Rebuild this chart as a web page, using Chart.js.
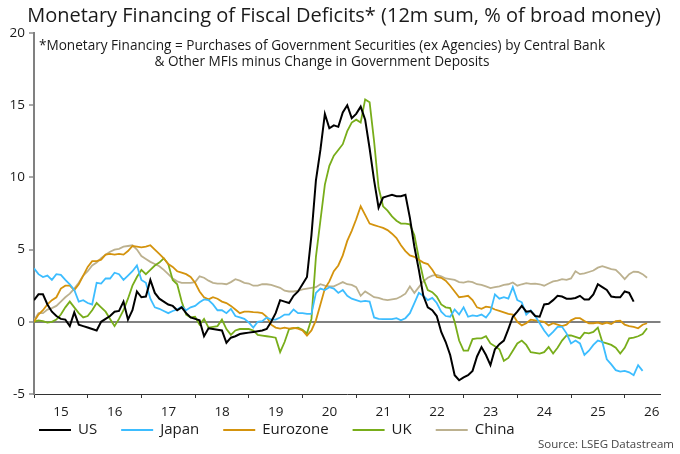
<!DOCTYPE html>
<html>
<head>
<meta charset="utf-8">
<script src="https://cdn.jsdelivr.net/npm/chart.js@4.4.1/dist/chart.umd.min.js"></script>
<style>
  html, body { margin: 0; padding: 0; background: #fff; }
  #wrap { width: 680px; height: 454px; position: relative; }
</style>
</head>
<body>
<div id="wrap"><canvas id="chart" width="680" height="454"></canvas></div>
<script>
// monthly series, first value = Jan 2015
var years = ['15','16','17','18','19','20','21','22','23','24','25','26'];

var us = [1.5,1.9,1.9,1.2,0.7,0.4,0.2,0.15,-0.3,0.65,
  -0.2,-0.3,-0.4,-0.5,-0.6,0.0,0.2,0.4,0.7,0.75,
  1.4,0.15,0.8,2.1,1.7,1.75,2.9,2.0,1.6,1.4,
  1.2,1.1,0.8,1.0,0.6,0.3,0.2,0.1,-1.0,-0.45,
  -0.5,-0.55,-0.6,-1.45,-1.1,-1.0,-0.85,-0.8,-0.75,-0.7,
  -0.65,-0.6,-0.5,0.0,0.6,1.5,1.4,1.3,1.8,2.1,
  2.6,3.1,6.0,9.8,11.9,14.4,13.4,13.6,13.5,14.5,
  15.0,14.1,14.4,14.9,14.0,12.0,9.8,7.9,8.6,8.7,
  8.8,8.7,8.7,8.8,7.2,5.2,3.6,1.8,1.0,0.8,
  0.4,-0.7,-1.4,-2.3,-3.7,-4.05,-3.85,-3.7,-3.4,-2.4,
  -1.75,-2.3,-3.0,-1.9,-1.55,-1.3,-0.5,0.35,0.7,1.1,
  0.7,0.75,0.4,0.35,1.2,1.25,1.5,1.8,1.75,1.6,
  1.6,1.65,1.8,1.55,1.55,1.9,2.6,2.4,2.2,1.75,
  1.7,1.7,2.1,2.0,1.4];

var japan = [3.7,3.3,3.1,3.2,2.9,3.3,3.25,2.9,2.6,2.2,
  1.4,1.5,1.3,1.2,2.7,2.65,3.0,3.0,3.4,3.3,
  2.9,3.2,3.5,3.9,2.9,2.7,1.6,1.0,0.9,0.75,
  0.6,0.75,0.85,1.05,0.8,1.0,1.1,1.35,1.55,1.5,
  1.2,0.8,0.8,0.6,0.9,0.4,0.3,0.2,-0.05,-0.4,
  0.0,0.05,0.3,0.15,0.15,0.3,0.5,0.5,0.85,0.6,
  0.6,0.55,0.55,2.0,2.3,2.2,2.4,2.3,2.0,2.2,
  1.8,1.6,1.5,1.4,1.45,1.4,0.3,0.2,0.18,0.18,
  0.18,0.25,0.1,0.25,0.6,1.3,2.0,1.8,1.5,1.65,
  1.3,0.7,0.4,0.35,0.85,0.5,1.0,0.35,0.45,0.4,
  0.5,0.3,0.7,1.9,1.6,1.7,1.6,2.4,1.5,1.35,
  0.5,0.8,0.4,-0.1,-0.6,-1.0,-0.7,-0.35,-0.35,-0.8,
  -1.5,-1.3,-1.5,-2.3,-2.0,-1.6,-1.3,-1.4,-2.6,-2.95,
  -3.35,-3.45,-3.4,-3.5,-3.7,-3.0,-3.4];

var eurozone = [0.0,0.5,0.8,1.2,1.5,1.7,2.3,2.5,2.5,2.2,
  2.6,3.2,3.8,4.2,4.2,4.3,4.65,4.7,4.65,4.7,
  4.65,4.9,5.25,5.2,5.15,5.2,5.3,5.0,4.7,4.4,
  4.0,3.8,3.5,3.4,3.3,3.1,2.7,2.1,1.7,1.55,
  1.7,1.6,1.4,1.3,1.1,0.85,0.6,0.7,0.7,0.67,
  0.65,0.6,0.35,-0.2,-0.4,-0.47,-0.4,-0.47,-0.42,-0.47,
  -0.6,-0.95,-0.6,0.1,1.2,2.3,2.8,3.5,3.9,4.6,
  5.6,6.3,7.1,8.0,7.4,6.8,6.7,6.6,6.5,6.35,
  6.1,5.8,5.3,4.9,4.6,4.5,4.3,4.1,4.0,3.6,
  3.1,3.05,2.85,2.5,2.1,1.7,1.75,1.8,1.5,1.0,
  0.9,1.05,1.0,0.85,0.75,0.65,0.55,0.5,0.0,-0.25,
  -0.1,0.15,0.1,0.05,0.0,-0.25,-0.1,-0.2,-0.3,-0.2,
  0.1,0.25,0.25,0.05,-0.1,-0.1,-0.05,-0.15,-0.05,-0.15,
  0.05,0.07,-0.2,-0.3,-0.35,-0.45,-0.2,-0.1];

var uk = [0.0,0.1,0.05,-0.05,0.0,0.15,0.5,1.0,1.4,1.0,
  0.6,0.3,0.4,0.8,1.3,1.0,0.7,0.2,-0.3,0.2,
  0.8,1.6,2.5,3.1,3.6,3.3,3.6,3.9,4.1,4.4,
  4.0,2.9,2.6,1.4,0.5,0.3,0.35,-0.2,0.2,-0.4,
  -0.35,-0.3,0.15,-0.5,-0.9,-0.6,-0.5,-0.5,-0.5,-0.6,
  -0.9,-0.95,-1.0,-1.05,-1.1,-2.1,-1.4,-0.5,-0.45,-0.4,
  -0.55,-0.8,0.2,4.5,7.0,9.5,10.8,11.5,11.9,12.3,
  13.2,13.8,14.0,13.8,15.4,15.2,12.5,9.3,8.0,7.7,
  7.3,7.0,6.8,6.8,6.75,6.0,4.4,3.0,2.2,2.05,
  1.75,1.2,1.0,0.95,0.0,-1.3,-2.0,-2.0,-1.2,-1.15,
  -1.15,-1.0,-1.5,-1.7,-1.9,-2.7,-2.5,-2.0,-1.5,-1.3,
  -1.6,-2.1,-2.15,-2.2,-2.1,-1.75,-2.2,-1.8,-1.3,-0.95,
  -0.95,-1.05,-1.15,-0.75,-0.8,-0.7,-0.4,-1.4,-1.5,-1.6,
  -1.8,-2.2,-1.8,-1.15,-1.1,-1.0,-0.85,-0.45];

var china = [0.1,0.6,0.6,0.85,0.95,1.1,1.4,1.7,1.95,2.3,
  2.7,3.2,3.5,3.9,4.1,4.4,4.65,4.85,5.0,5.05,
  5.2,5.25,5.3,5.0,4.55,4.35,4.15,4.0,3.85,3.6,
  3.3,3.0,2.8,2.7,2.7,2.7,2.75,3.15,3.05,2.85,
  2.7,2.65,2.65,2.6,2.75,2.95,2.85,2.7,2.65,2.5,
  2.5,2.6,2.6,2.55,2.45,2.35,2.15,2.1,2.1,2.15,
  2.25,2.3,2.35,2.4,2.6,2.5,2.45,2.45,2.6,2.75,
  2.6,2.55,2.4,1.8,2.1,1.9,1.7,1.65,1.55,1.5,
  1.55,1.6,1.75,1.95,2.45,2.0,2.4,2.8,3.05,3.2,
  3.25,3.15,3.0,2.95,2.9,2.75,2.72,2.8,2.75,2.6,
  2.55,2.45,2.33,2.4,2.45,2.55,2.6,2.72,2.5,2.6,
  2.68,2.63,2.65,2.6,2.5,2.65,2.8,2.85,2.95,2.9,
  3.0,3.5,3.3,3.35,3.45,3.55,3.75,3.85,3.75,3.65,
  3.6,3.3,2.95,3.3,3.48,3.45,3.3,3.05];

var seriesNames = ['US', 'Japan', 'Eurozone', 'UK', 'China'];
var seriesColors = ['#000000', '#3dbdff', '#d4930d', '#78ad1a', '#bcb18f'];
var seriesData = [us, japan, eurozone, uk, china];

var FONT = '"Open Sans", "Noto Sans", sans-serif';

function toPoints(arr) {
  return arr.map(function (v, i) { return { x: i, y: v }; });
}

var datasets = seriesData.map(function (arr, i) {
  return {
    label: seriesNames[i],
    data: toPoints(arr),
    borderColor: seriesColors[i],
    backgroundColor: seriesColors[i],
    borderWidth: i === 0 ? 2 : 1.8,
    pointRadius: 0,
    tension: 0
  };
});

var decor = {
  id: 'decor',
  afterDraw: function (chart) {
    var ctx = chart.ctx;
    ctx.save();
    ctx.fillStyle = '#1a1a1a';
    ctx.textBaseline = 'middle';

    // title
    ctx.font = '20px ' + FONT;
    ctx.textAlign = 'center';
    ctx.fillText('Monetary Financing of Fiscal Deficits* (12m sum, % of broad money)', 344, 16);

    // footnote
    ctx.font = '13.6px ' + FONT;
    ctx.fillText('*Monetary Financing = Purchases of Government Securities (ex Agencies) by Central Bank', 322, 46);
    ctx.fillText('& Other MFIs minus Change in Government Deposits', 322, 62);

    // legend
    ctx.font = '15px ' + FONT;
    ctx.textAlign = 'left';
    var x = 39;
    chart.data.datasets.forEach(function (ds) {
      ctx.strokeStyle = ds.borderColor;
      ctx.lineWidth = 2;
      ctx.beginPath();
      ctx.moveTo(x, 430);
      ctx.lineTo(x + 32, 430);
      ctx.stroke();
      ctx.fillStyle = '#1a1a1a';
      ctx.fillText(ds.label, x + 39, 430);
      x += 39 + ctx.measureText(ds.label).width + 24;
    });

    // source
    ctx.font = '11.5px ' + FONT;
    ctx.fillStyle = '#444';
    ctx.textAlign = 'right';
    ctx.fillText('Source: LSEG Datastream', 674, 445);
    ctx.restore();
  }
};

var ctx = document.getElementById('chart').getContext('2d');
var mychart = new Chart(ctx, {
  type: 'line',
  data: { datasets: datasets },
  plugins: [decor],
  options: {
    responsive: false,
    animation: false,
    layout: { padding: { top: 33, right: 19.5, bottom: 0, left: 0 } },
    plugins: {
      legend: { display: false },
      title: { display: false },
      tooltip: { enabled: false }
    },
    scales: {
      x: {
        type: 'linear',
        min: 0,
        max: 140,
        afterFit: function (s) { s.height = 60; },
        afterBuildTicks: function (s) {
          s.ticks = years.map(function (y, i) { return { value: i * 12 }; });
        },
        border: { display: true, color: '#333', width: 1 },
        grid: { drawOnChartArea: false, drawTicks: true, tickLength: 4, tickColor: '#333', tickWidth: 1 },
        ticks: {
          autoSkip: false,
          maxRotation: 0,
          labelOffset: 27,
          padding: 6,
          color: '#1a1a1a',
          font: { family: FONT, size: 13.5 },
          callback: function (v) { return years[Math.round(v / 12)]; }
        }
      },
      y: {
        min: -5,
        max: 20,
        afterFit: function (s) { s.width = 34; },
        border: { display: true, color: '#808080', width: 2 },
        grid: {
          drawOnChartArea: true,
          color: function (c) { return c.tick && c.tick.value === 0 ? '#808080' : 'rgba(0,0,0,0)'; },
          lineWidth: 2,
          tickLength: 5,
          tickColor: '#555',
          tickWidth: 1
        },
        ticks: {
          stepSize: 5,
          padding: 4,
          color: '#1a1a1a',
          font: { family: FONT, size: 13.5 }
        }
      }
    }
  }
});
</script>
</body>
</html>
